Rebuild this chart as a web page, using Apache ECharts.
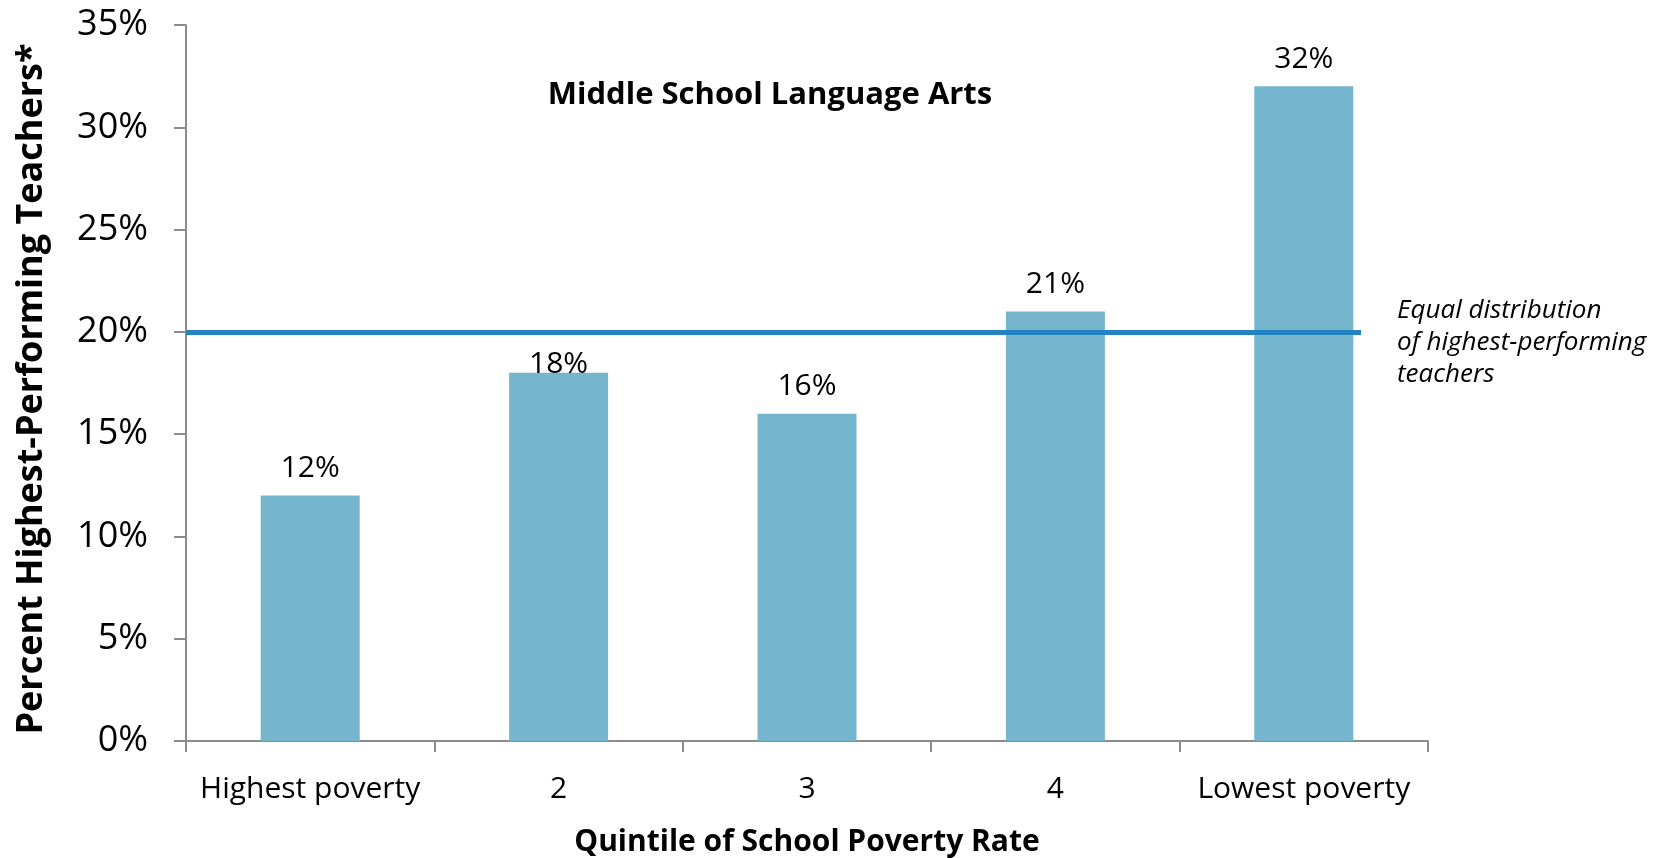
<!DOCTYPE html>
<html>
<head>
<meta charset="utf-8">
<script src="https://cdn.jsdelivr.net/npm/echarts@6/dist/echarts.min.js"></script>
<style>
  html, body { margin: 0; padding: 0; background: #ffffff; }
  #chart { width: 1666px; height: 858px; }
</style>
</head>
<body>
<div id="chart"></div>
<script>
// Share of highest-performing teachers by school poverty quintile
const categories = ['Highest poverty', '2', '3', '4', 'Lowest poverty'];
const shareValues = [12, 18, 16, 21, 32];
const equalShare = 20;
const yTicks = [0, 5, 10, 15, 20, 25, 30, 35];

const chartTitle = 'Middle School Language Arts';
const yName = 'Percent Highest-Performing Teachers*';
const xName = 'Quintile of School Poverty Rate';
const noteText = 'Equal distribution\nof highest-performing\nteachers';

const FONT = '"Open Sans", "Noto Sans", sans-serif';
const AXIS_COLOR = '#8c8c8c';

const grid = { left: 186, right: 238, top: 25, bottom: 117, containLabel: false, outerBoundsMode: 'none' };
const refLineEndX = 1361;

const chart = echarts.init(document.getElementById('chart'), null, { renderer: 'canvas' });

// The "2" bar's label sits right on top of its bar, just under the reference line
const barData = shareValues.map((v, i) =>
  i === 1 ? { value: v, label: { distance: -7 } } : v
);

chart.setOption({
  animation: false,
  backgroundColor: '#ffffff',
  textStyle: { fontFamily: FONT },
  title: {
    text: chartTitle,
    left: 765,
    top: 75,
    textAlign: 'center',
    textStyle: { fontFamily: FONT, fontSize: 31, fontWeight: 'bold', color: '#000' }
  },
  grid: grid,
  xAxis: {
    type: 'category',
    data: categories,
    name: xName,
    nameLocation: 'middle',
    nameGap: 86,
    nameTextStyle: { fontFamily: FONT, fontSize: 30, fontWeight: 'bold', color: '#000' },
    axisLine: { lineStyle: { color: AXIS_COLOR, width: 2 } },
    axisTick: { show: true, interval: 0, length: 11, lineStyle: { color: AXIS_COLOR, width: 2 } },
    axisLabel: { interval: 0, fontFamily: FONT, fontSize: 30, color: '#000', margin: 33 },
    splitLine: { show: false }
  },
  yAxis: {
    type: 'value',
    min: yTicks[0],
    max: yTicks[yTicks.length - 1],
    interval: yTicks[1] - yTicks[0],
    name: yName,
    nameLocation: 'middle',
    nameGap: 136,
    nameTextStyle: { fontFamily: FONT, fontSize: 36, fontWeight: 'bold', color: '#000', padding: [0, 12, 0, 0] },
    axisLine: { show: true, lineStyle: { color: AXIS_COLOR, width: 2 } },
    axisTick: { show: true, length: 12, lineStyle: { color: AXIS_COLOR, width: 2 } },
    axisLabel: { fontFamily: FONT, fontSize: 36, color: '#000', margin: 38, formatter: '{value}%' },
    splitLine: { show: false }
  },
  series: [{
    type: 'bar',
    data: barData,
    barWidth: 99,
    itemStyle: { color: '#76b5ce' },
    label: {
      show: true,
      position: 'top',
      distance: 12,
      fontFamily: FONT,
      fontSize: 30,
      color: '#000',
      formatter: '{c}%'
    },
    markLine: {
      silent: true,
      symbol: ['none', 'none'],
      lineStyle: { color: '#2383c0', width: 5, type: 'solid' },
      label: { show: false },
      z: 5,
      data: [[
        { x: grid.left, yAxis: equalShare },
        { x: refLineEndX, yAxis: equalShare }
      ]]
    }
  }],
  graphic: [{
    type: 'text',
    left: 1397,
    top: 295,
    style: {
      text: noteText,
      fontFamily: FONT,
      fontSize: 26,
      fontStyle: 'italic',
      lineHeight: 32,
      fill: '#000'
    }
  }]
});
</script>
</body>
</html>
